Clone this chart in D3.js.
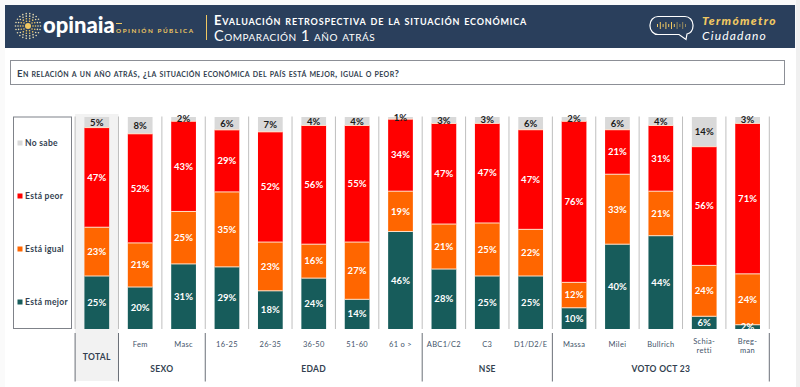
<!DOCTYPE html>
<html>
  <head>
    <title>Situación económica</title>
    <meta charset="utf-8" />
    <script src="https://cdnjs.cloudflare.com/ajax/libs/d3/7.6.1/d3.min.js"></script>
    <style>
      html, body { margin: 0; padding: 0; background: #fff; overflow: hidden; }
      svg { display: block; font-family: Lato, sans-serif; }
      .pct { font-size: 9.5px; font-weight: 700; text-anchor: middle; letter-spacing: 0.1px; }
      .cat { font-size: 7.5px; fill: #44546a; text-anchor: middle; letter-spacing: 0.3px; }
      .grp { font-size: 8.5px; font-weight: 700; fill: #333f50; text-anchor: middle; letter-spacing: 0.3px; }
      .leg { font-size: 8.5px; font-weight: 700; fill: #333f50; letter-spacing: 0.3px; }
    </style>
  </head>
  <body>
    <svg width="800" height="387"></svg>
    <script>
      const categories = ["TOTAL", "Fem", "Masc", "16-25", "26-35", "36-50", "51-60", "61 o >", "ABC1/C2", "C3", "D1/D2/E", "Massa", "Milei", "Bullrich", "Schia-|retti", "Breg-|man"];
      const mejor = [25, 20, 31, 29, 18, 24, 14, 46, 28, 25, 25, 10, 40, 44, 6, 2];
      const igual = [23, 21, 25, 35, 23, 16, 27, 19, 21, 25, 22, 12, 33, 21, 24, 24];
      const peor = [47, 52, 43, 29, 52, 56, 55, 34, 47, 47, 47, 76, 21, 31, 56, 71];
      const noSabe = [5, 8, 2, 6, 7, 4, 4, 1, 3, 3, 6, 2, 6, 4, 14, 3];
      const seriesNames = ["Está mejor", "Está igual", "Está peor", "No sabe"];
      const seriesColors = ["#175c5b", "#ff6600", "#ff0000", "#d9d9d9"];
      const groupNames = ["SEXO", "EDAD", "NSE", "VOTO OCT 23"];
      const groupRanges = [[1, 2], [3, 7], [8, 10], [11, 15]];

      const svg = d3.select("svg");
      const navy = "#2a3f5c", gold = "#f0c862";

      // page edges
      svg.append("rect").attr("width", 800).attr("height", 387).attr("fill", "#fafafa");
      svg.append("rect").attr("x", 5).attr("y", 48).attr("width", 791).attr("height", 339).attr("fill", "#fff");
      svg.append("rect").attr("x", 796).attr("width", 4).attr("height", 387).attr("fill", "#f0f0f0");

      // header band
      const head = svg.append("g");
      head.append("rect").attr("x", 5).attr("y", 5).attr("width", 790).attr("height", 43).attr("fill", navy);

      // logo: rings of small dots round a gold centre
      const logo = head.append("g").attr("transform", "translate(28,26)");
      logo.append("circle").attr("r", 3).attr("fill", gold);
      [[5, 10], [7.5, 14], [10, 18], [12.5, 22]].forEach(([r, n]) => {
        d3.range(n).forEach((i) => {
          const a = (i / n) * 2 * Math.PI;
          logo.append("circle")
            .attr("cx", r * Math.cos(a))
            .attr("cy", r * Math.sin(a))
            .attr("r", 0.8)
            .attr("fill", r > 9 ? "#e8dcb0" : gold);
        });
      });
      head.append("text").attr("x", 43).attr("y", 33).attr("fill", "#fff")
        .attr("font-family", "Lato").attr("font-weight", 900).attr("font-size", 22).text("opinaia");
      head.append("rect").attr("x", 116).attr("y", 23).attr("width", 6).attr("height", 1).attr("fill", gold);
      head.append("text").attr("x", 116).attr("y", 32.5).attr("fill", gold).attr("font-weight", 700)
        .attr("font-size", 6.3).attr("letter-spacing", 1.55).text("OPINIÓN PÚBLICA");
      head.append("rect").attr("x", 206).attr("y", 15).attr("width", 1).attr("height", 25).attr("fill", gold);
      head.append("text").attr("x", 214).attr("y", 25).attr("fill", "#fff").attr("font-weight", 700)
        .attr("font-size", 13).attr("letter-spacing", 0.8).style("font-variant", "small-caps")
        .text("Evaluación retrospectiva de la situación económica");
      head.append("text").attr("x", 214).attr("y", 41).attr("fill", "#fff")
        .attr("font-size", 14.5).attr("letter-spacing", 0.5).style("font-variant", "small-caps")
        .text("Comparación 1 año atrás");

      // speech bubble
      const bubble = head.append("g");
      bubble.append("path")
        .attr("d", "M658 16.5H685a8 8.5 0 0 1 8 8.5v1a8 8.5 0 0 1-6 8L686 39.5L679 34.5H658a8 8.5 0 0 1-8-8.5v-1a8 8.5 0 0 1 8-8.5Z")
        .attr("fill", "none").attr("stroke", "#fff").attr("stroke-width", 1.2);
      d3.range(11).forEach((i) => {
        const h = [3, 7, 3, 7, 3, 7, 3, 7, 3, 7, 3][i];
        bubble.append("rect").attr("x", 657 + i * 2.8).attr("y", 25.5 - h / 2)
          .attr("width", 1).attr("height", h).attr("fill", gold).attr("opacity", i > 6 ? 0.55 : 1);
      });
      head.append("text").attr("x", 702).attr("y", 25).attr("fill", gold).attr("font-weight", 900)
        .attr("font-style", "italic").attr("font-size", 12).attr("letter-spacing", 1.3).text("Termómetro");
      head.append("text").attr("x", 702).attr("y", 40).attr("fill", "#fff")
        .attr("font-style", "italic").attr("font-size", 12).attr("letter-spacing", 1.2).text("Ciudadano");

      // question box
      svg.append("rect").attr("x", 10.5).attr("y", 60.5).attr("width", 774).attr("height", 24)
        .attr("fill", "#fff").attr("stroke", "#8c8f96");
      svg.append("text").attr("x", 17).attr("y", 77).attr("fill", "#333f50").attr("font-weight", 700)
        .attr("font-size", 9.7).attr("letter-spacing", 0.38).style("font-variant", "small-caps")
        .text("En relación a un año atrás, ¿la situación económica del país está mejor, igual o peor?");

      // scales
      const x = d3.scaleBand().domain(d3.range(categories.length)).range([75.1, 769.3]).paddingInner(0.43).paddingOuter(0.215);
      const y = d3.scaleLinear().domain([0, 1]).range([329, 117]);
      const tableRows = categories.map((c, i) => [mejor[i], igual[i], peor[i], noSabe[i]]);
      const stack = d3.stack().keys([0, 1, 2, 3]).offset(d3.stackOffsetExpand);
      const layers = stack(tableRows);
      const edge = (i) => 75.1 + i * x.step();

      // TOTAL column shading
      svg.append("rect").attr("x", edge(0)).attr("y", 114).attr("width", x.step()).attr("height", 267).attr("fill", "#f2f2f2");

      // column separators
      svg.append("g").selectAll("line").data(d3.range(categories.length + 1)).join("line")
        .attr("x1", edge).attr("x2", edge).attr("y1", 116.5).attr("y2", 329)
        .attr("stroke", "#bfbfbf").attr("stroke-width", 1);

      // group separators under the chart
      svg.append("g").selectAll("line").data([0, 1, 3, 8, 11, 16]).join("line")
        .attr("x1", edge).attr("x2", edge).attr("y1", 333).attr("y2", 381.5)
        .attr("stroke", "#6b7078").attr("stroke-width", 1);

      // bars
      svg.append("clipPath").attr("id", "plot").append("rect").attr("x", 0).attr("y", 100).attr("width", 800).attr("height", 229);
      const layer = svg.append("g").selectAll("g").data(layers).join("g").attr("fill", (d, i) => seriesColors[i]);
      layer.selectAll("rect").data((d) => d).join("rect")
        .attr("x", (d, i) => x(i))
        .attr("y", (d) => y(d[1]))
        .attr("width", x.bandwidth())
        .attr("height", (d) => y(d[0]) - y(d[1]));
      layer.filter((d, i) => i > 0).selectAll("line").data((d) => d).join("line")
        .attr("x1", (d, i) => x(i)).attr("x2", (d, i) => x(i) + x.bandwidth())
        .attr("y1", (d) => y(d[0])).attr("y2", (d) => y(d[0]))
        .attr("stroke", "#ffe0c8").attr("stroke-width", 1);

      // value labels
      const labels = svg.append("g").attr("clip-path", "url(#plot)");
      layers.forEach((l, s) => {
        labels.selectAll(null).data(l).join("text")
          .attr("class", "pct")
          .attr("x", (d, i) => x(i) + x.bandwidth() / 2)
          .attr("y", (d) => y((d[0] + d[1]) / 2) + 3.3)
          .attr("fill", s === 3 ? "#1a1a1a" : "#fff")
          .text((d, i) => tableRows[i][s] + "%");
      });

      // category labels
      svg.append("g").selectAll("text").data(categories).join("text")
        .attr("class", (d, i) => (i === 0 ? "grp" : "cat"))
        .attr("x", (d, i) => x(i) + x.bandwidth() / 2)
        .attr("y", (d, i) => (i === 0 ? 360 : d.includes("|") ? 343.5 : 347))
        .each(function (d) {
          const sel = d3.select(this);
          d.split("|").forEach((part, i) => {
            sel.append("tspan").attr("x", sel.attr("x")).attr("dy", i ? 9 : 0).text(part);
          });
        });

      // group labels
      svg.append("g").selectAll("text").data(groupNames).join("text")
        .attr("class", "grp")
        .attr("x", (d, i) => (edge(groupRanges[i][0]) + edge(groupRanges[i][1] + 1)) / 2)
        .attr("y", 372)
        .text((d) => d);

      // legend
      svg.append("rect").attr("x", 13.5).attr("y", 117).attr("width", 58).attr("height", 211.5)
        .attr("fill", "#fff").attr("stroke", "#7f8289");
      const legendY = d3.scalePoint().domain(seriesNames).range([302, 143]);
      const leg = svg.append("g").selectAll("g").data(seriesNames).join("g")
        .attr("transform", (d) => `translate(17.5,${legendY(d)})`);
      leg.append("rect").attr("y", -2.5).attr("width", 5).attr("height", 5).attr("fill", (d, i) => seriesColors[i]);
      leg.append("text").attr("class", "leg").attr("x", 7.5).attr("y", 3).text((d) => d);
    </script>
  </body>
</html>
